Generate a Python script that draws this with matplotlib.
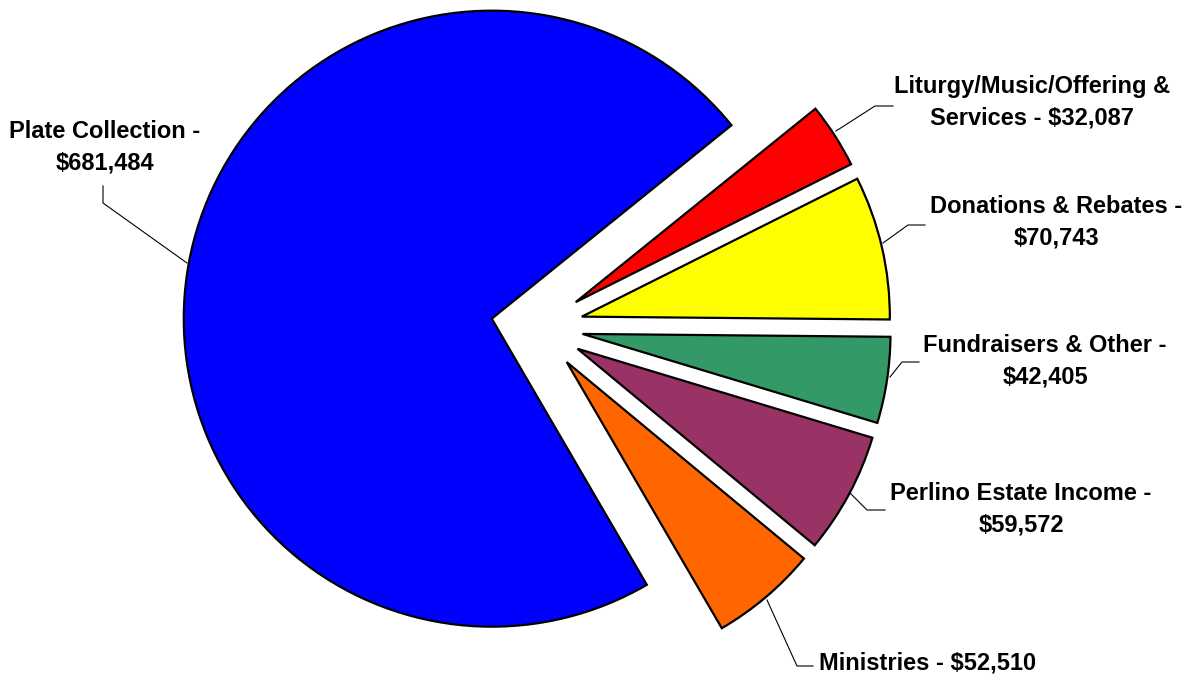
import matplotlib
matplotlib.use("Agg")
import matplotlib.pyplot as plt

plt.rcParams['font.family'] = ['Liberation Sans', 'DejaVu Sans']

# slice data, in clockwise order starting at upper right
labels = ["Liturgy/Music/Offering &\nServices - $32,087",
          "Donations & Rebates -\n$70,743",
          "Fundraisers & Other -\n$42,405",
          "Perlino Estate Income -\n$59,572",
          "Ministries - $52,510",
          "Plate Collection -\n$681,484"]
values = [32087, 70743, 42405, 59572, 52510, 681484]
colors = ["#FF0000", "#FFFF00", "#339966", "#993366", "#FF6600", "#0000FF"]

W, H = 1189, 680
fig = plt.figure(figsize=(W / 100, H / 100), dpi=100)
ax = fig.add_axes([0, 0, 1, 1])
ax.set_xlim(0, W)
ax.set_ylim(0, H)
ax.set_aspect('equal')
ax.axis('off')

ax.pie(values, colors=colors, startangle=38.9, counterclock=False,
       center=(537, H - 327), radius=308, explode=[46] * len(values),
       wedgeprops=dict(edgecolor='black', linewidth=1.6))
ax.set_xlim(0, W)
ax.set_ylim(0, H)

# label positions (pixel coords, y from top) and leader lines
label_pos = [(1032, 102), (1056, 222), (1045, 361), (1021, 509), (928, 663), (105, 147)]
leaders = [
    [(836, 131), (875, 106), (893, 106)],
    [(883, 243), (908, 225), (925, 225)],
    [(890, 377), (902, 362), (919, 362)],
    [(850, 493), (867, 510), (885, 510)],
    [(767, 600), (797, 666), (813, 666)],
    [(187, 263), (103, 203), (103, 186)],
]

for lab, (x, y) in zip(labels, label_pos):
    ax.text(x, H - y, lab, ha='center', va='center', fontsize=17,
            fontweight='bold', linespacing=1.45)

for pts in leaders:
    ax.plot([p[0] for p in pts], [H - p[1] for p in pts], color='black', lw=0.8)

fig.savefig("out.png", dpi=100)
